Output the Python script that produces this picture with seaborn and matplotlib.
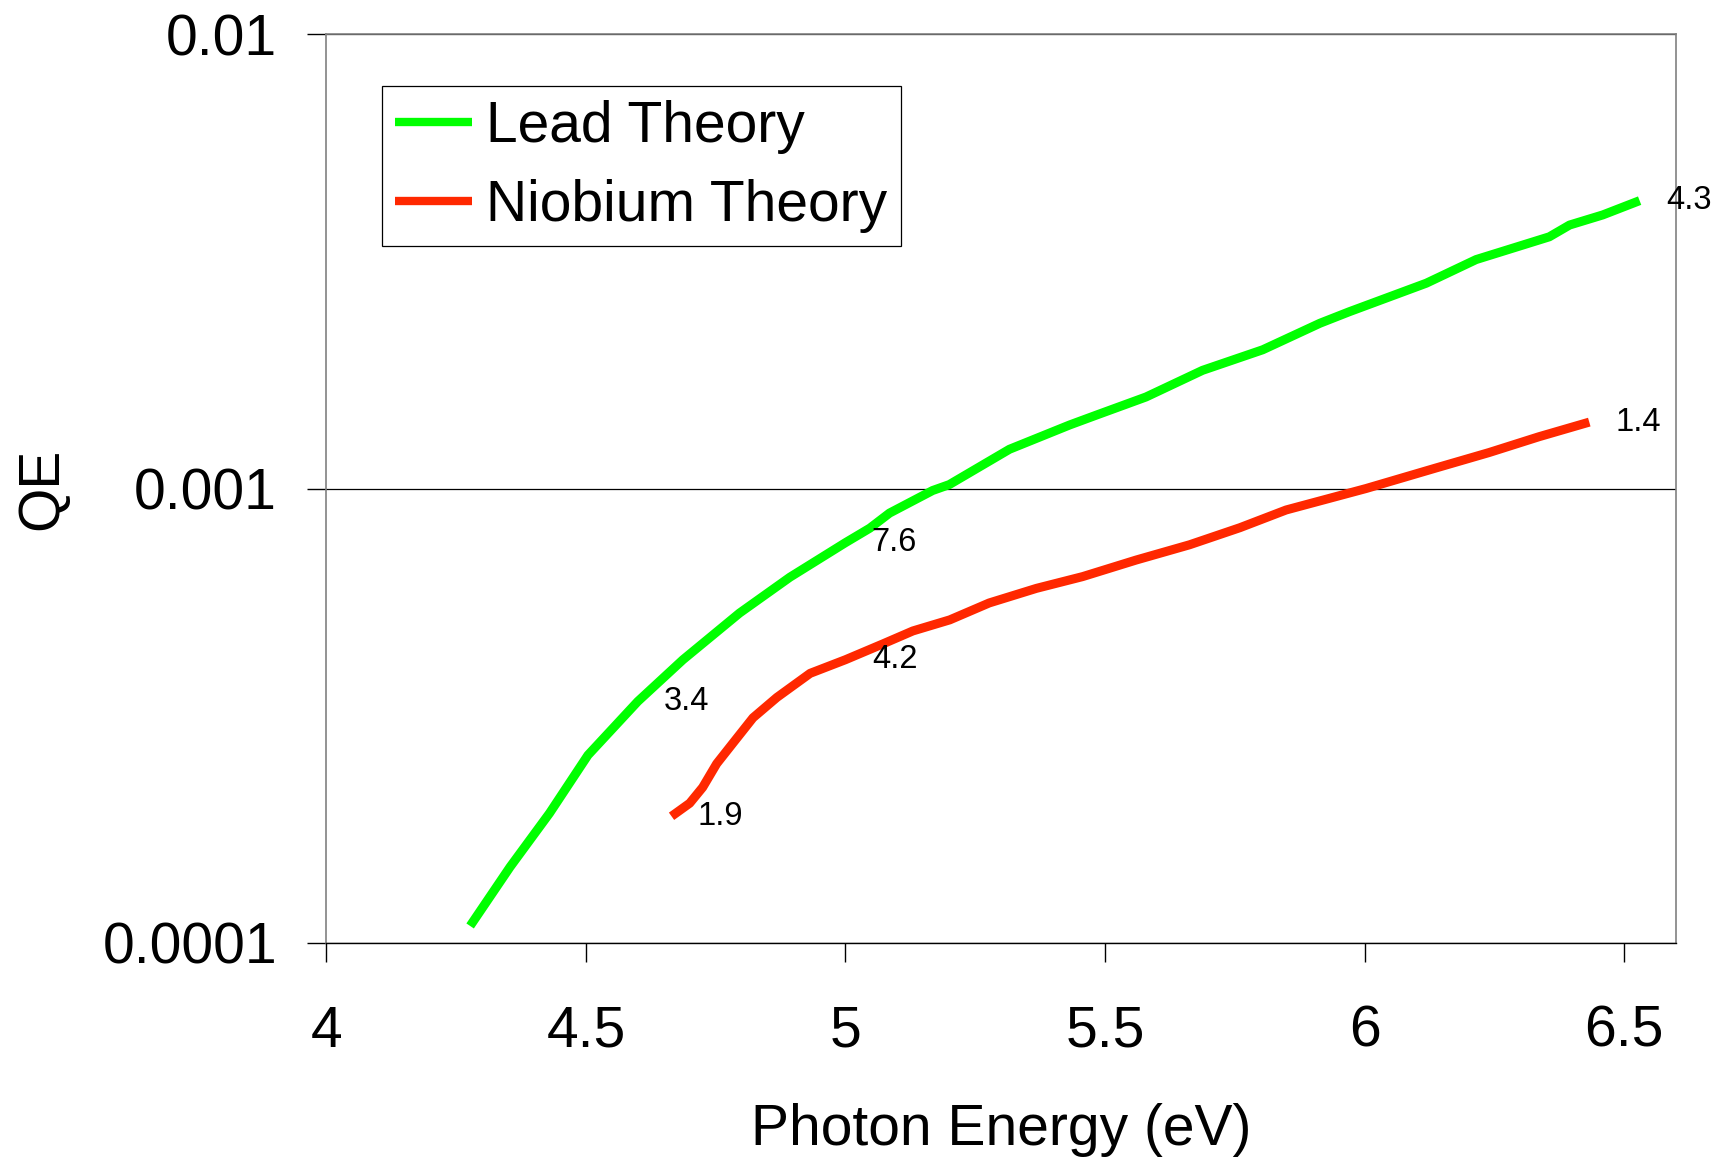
import matplotlib
matplotlib.use("Agg")
import matplotlib.pyplot as plt
import numpy as np
import pandas as pd
import seaborn as sns
from matplotlib.ticker import FixedLocator, FixedFormatter, NullLocator

# Quantum efficiency vs photon energy (theory curves)
lead_energy = [4.277, 4.354, 4.430, 4.504, 4.600, 4.687, 4.796, 4.893, 5.000,
               5.047, 5.085, 5.168, 5.200, 5.316, 5.432, 5.483, 5.579, 5.688,
               5.804, 5.914, 5.971, 6.119, 6.215, 6.356, 6.395, 6.459, 6.530]
lead_qe = [1.09e-4, 1.47e-4, 1.93e-4, 2.59e-4, 3.4e-4, 4.2e-4, 5.32e-4, 6.38e-4, 7.6e-4,
           8.18e-4, 8.83e-4, 9.9e-4, 1.02e-3, 1.22e-3, 1.38e-3, 1.45e-3, 1.59e-3, 1.82e-3,
           2.02e-3, 2.31e-3, 2.45e-3, 2.83e-3, 3.19e-3, 3.58e-3, 3.80e-3, 4.0e-3, 4.3e-3]

niobium_energy = [4.665, 4.700, 4.725, 4.752, 4.783, 4.822, 4.868, 4.932, 5.000,
                  5.072, 5.130, 5.201, 5.277, 5.368, 5.457, 5.560, 5.663, 5.760,
                  5.849, 6.003, 6.138, 6.240, 6.336, 6.433]
niobium_qe = [1.9e-4, 2.03e-4, 2.2e-4, 2.48e-4, 2.75e-4, 3.13e-4, 3.47e-4, 3.92e-4, 4.2e-4,
              4.55e-4, 4.86e-4, 5.14e-4, 5.6e-4, 6.03e-4, 6.4e-4, 6.96e-4, 7.52e-4, 8.2e-4,
              8.97e-4, 1.0e-3, 1.11e-3, 1.2e-3, 1.30e-3, 1.4e-3]

series_names = ["Lead Theory", "Niobium Theory"]
series_colors = ["#00FF00", "#FF2800"]

# Value labels placed next to selected points of each curve
lead_label_energy = [4.600, 5.000, 6.530]
lead_label_text = ["3.4", "7.6", "4.3"]
niobium_label_energy = [4.665, 5.000, 6.433]
niobium_label_text = ["1.9", "4.2", "1.4"]

y_ticks = [1e-4, 1e-3, 1e-2]
y_tick_labels = ["0.0001", "0.001", "0.01"]
x_ticks = [4, 4.5, 5, 5.5, 6, 6.5]
x_tick_labels = ["4", "4.5", "5", "5.5", "6", "6.5"]

df = pd.concat([
    pd.DataFrame({"energy": lead_energy, "qe": lead_qe, "series": series_names[0]}),
    pd.DataFrame({"energy": niobium_energy, "qe": niobium_qe, "series": series_names[1]}),
], ignore_index=True)

sns.set_theme(style="white")
plt.rcParams["font.family"] = ["Liberation Sans", "DejaVu Sans"]
plt.rcParams["text.color"] = "black"
plt.rcParams["axes.labelcolor"] = "black"
plt.rcParams["xtick.color"] = "black"
plt.rcParams["ytick.color"] = "black"

fig = plt.figure(figsize=(17.23, 11.59), dpi=100)
ax = fig.add_axes([0.1894, 0.1864, 0.7833, 0.7842])

sns.lineplot(data=df, x="energy", y="qe", hue="series", hue_order=series_names,
             palette=series_colors, linewidth=6.5, sort=False, estimator=None,
             ax=ax, legend=True)
for line in ax.get_lines():
    line.set_solid_capstyle("butt")
    line.set_solid_joinstyle("round")

ax.set_yscale("log")
ax.set_xlim(4, 6.6)
ax.set_ylim(1e-4, 1e-2)

ax.xaxis.set_major_locator(FixedLocator(x_ticks))
ax.xaxis.set_major_formatter(FixedFormatter(x_tick_labels))
ax.yaxis.set_major_locator(FixedLocator(y_ticks))
ax.yaxis.set_major_formatter(FixedFormatter(y_tick_labels))
ax.yaxis.set_minor_locator(NullLocator())
ax.xaxis.set_minor_locator(NullLocator())

ax.tick_params(axis="both", which="major", direction="out", length=13.5, width=1.0,
               color="black", labelsize=41, labelcolor="black")
ax.tick_params(axis="y", pad=22, left=True)
ax.tick_params(axis="x", pad=31, bottom=True)

ax.grid(axis="y", color="black", linewidth=0.9)
ax.grid(axis="x", visible=False)
ax.set_axisbelow(True)

for side in ["left", "top", "right"]:
    ax.spines[side].set_visible(True)
    ax.spines[side].set_color("#808080")
    ax.spines[side].set_linewidth(1.2)
ax.spines["bottom"].set_color("black")
ax.spines["bottom"].set_linewidth(1.0)

ax.set_xlabel("Photon Energy (eV)", fontsize=41, color="black", labelpad=32)
ax.set_ylabel("QE", fontsize=41, color="black", labelpad=24)

# value labels
for energies, texts, xs, ys in [
    (lead_label_energy, lead_label_text, lead_energy, lead_qe),
    (niobium_label_energy, niobium_label_text, niobium_energy, niobium_qe),
]:
    for e, t in zip(energies, texts):
        i = int(np.argmin(np.abs(np.asarray(xs) - e)))
        ax.annotate(t, xy=(xs[i], ys[i]), xytext=(19, 0), textcoords="offset points",
                    ha="left", va="center", fontsize=23.5, color="black",
                    annotation_clip=False)

handles, labels = ax.get_legend_handles_labels()
leg = ax.legend(handles, labels, loc="upper left", bbox_to_anchor=(0.041, 0.943),
                borderaxespad=0, fontsize=41, frameon=True, fancybox=False,
                shadow=False, handlelength=1.35, handletextpad=0.25,
                borderpad=0.24, labelspacing=0.44, title=None)
leg.get_frame().set_edgecolor("black")
leg.get_frame().set_linewidth(0.9)
leg.get_frame().set_facecolor("white")
leg.get_frame().set_alpha(1)
for txt in leg.get_texts():
    txt.set_color("black")
for h in leg.get_lines():
    h.set_linewidth(6)
    h.set_solid_capstyle("butt")

fig.savefig("out.png", dpi=100, facecolor="white")
